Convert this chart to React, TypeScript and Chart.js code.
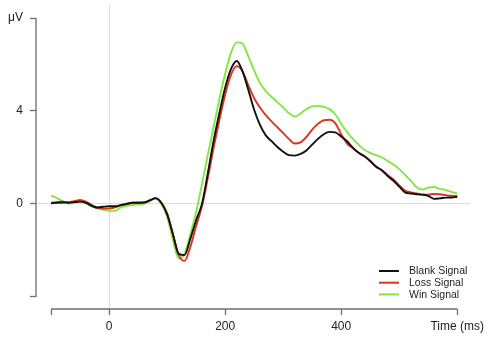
import React, { useEffect, useRef } from "react";
import { Chart, registerables } from "chart.js";

Chart.register(...registerables);

const times = [
  -100, -90, -80, -70, -60, -50, -40, -30, -20, -10,
  0, 10, 20, 30, 40, 50, 60, 70, 80, 90,
  100, 110, 120, 130, 140, 150, 160, 170, 180, 190,
  200, 210, 220, 230, 240, 250, 260, 270, 280, 290,
  300, 310, 320, 330, 340, 350, 360, 370, 380, 390,
  400, 410, 420, 430, 440, 450, 460, 470, 480, 490,
  500, 510, 520, 530, 540, 550, 560, 570, 580, 590, 600,
];

const blankSignal = [
  0.03, 0.05, 0.06, 0.05, 0.08, 0.1, 0.05, -0.08, -0.15, -0.12,
  -0.1, -0.1, -0.05, 0.0, 0.05, 0.05, 0.06, 0.15, 0.25, 0.05,
  -0.45, -1.3, -2.15, -2.2, -1.5, -0.7, 0.0, 1.3, 2.7, 3.9,
  5.0, 5.8, 6.15, 5.7, 4.9, 4.05, 3.4, 2.95, 2.7, 2.45,
  2.25, 2.1, 2.08, 2.15, 2.3, 2.55, 2.8, 3.0, 3.1, 3.08,
  2.9, 2.7, 2.42, 2.2, 2.05, 1.85, 1.6, 1.45, 1.2, 1.0,
  0.75, 0.5, 0.45, 0.42, 0.4, 0.35, 0.22, 0.24, 0.27, 0.28, 0.3,
];

const lossSignal = [
  0.05, 0.08, 0.1, 0.08, 0.12, 0.17, 0.1, -0.05, -0.18, -0.2,
  -0.2, -0.15, -0.05, 0.0, 0.05, 0.06, 0.06, 0.15, 0.24, 0.05,
  -0.4, -1.3, -2.2, -2.45, -1.85, -0.95, -0.1, 1.1, 2.4, 3.6,
  4.7, 5.55, 5.93, 5.7, 5.1, 4.55, 4.15, 3.82, 3.55, 3.3,
  3.05, 2.8, 2.6, 2.65, 2.88, 3.2, 3.45, 3.6, 3.62, 3.47,
  3.0, 2.6, 2.4, 2.2, 2.05, 1.85, 1.62, 1.45, 1.25, 1.05,
  0.8, 0.58, 0.5, 0.45, 0.4, 0.4, 0.43, 0.42, 0.38, 0.35, 0.34,
];

const winSignal = [
  0.36, 0.25, 0.12, 0.02, 0.05, 0.1, 0.02, -0.1, -0.18, -0.25,
  -0.3, -0.3, -0.15, -0.08, -0.05, -0.02, 0.0, 0.12, 0.24, 0.0,
  -0.55, -1.55, -2.35, -2.15, -1.3, -0.35, 0.85, 2.1, 3.3, 4.5,
  5.6, 6.5, 6.95, 6.9, 6.35, 5.75, 5.2, 4.85, 4.6, 4.38,
  4.15, 3.9, 3.76, 3.9, 4.08, 4.2, 4.22, 4.18, 4.08, 3.85,
  3.45, 3.1, 2.8, 2.55, 2.33, 2.2, 2.1, 2.0, 1.85, 1.7,
  1.5, 1.25, 1.0, 0.72, 0.62, 0.7, 0.73, 0.65, 0.6, 0.52, 0.45,
];

const seriesLabels = ["Blank Signal", "Loss Signal", "Win Signal"];
const seriesColors = ["#111111", "#de3320", "#84e640"];
const xTicks = [-100, 0, 200, 400, 600];
const xTickLabels = ["", "0", "200", "400", "Time (ms)"];
const yTicks = [-4, 0, 4, 8];
const yTickLabels = ["", "0", "4", "μV"];

const FONT = "'Liberation Sans', Arial, Helvetica, sans-serif";
const AXIS_COLOR = "#6e6e6e";

const axesAndLegend = {
  id: "axesAndLegend",
  afterDraw(chart: any) {
    const ctx = chart.ctx;
    const xs = chart.scales.x;
    const ys = chart.scales.y;
    const ca = chart.chartArea;
    ctx.save();
    ctx.strokeStyle = AXIS_COLOR;
    ctx.lineWidth = 1.3;
    ctx.beginPath();
    ctx.moveTo(ca.left, ys.getPixelForValue(yTicks[0]));
    ctx.lineTo(ca.left, ys.getPixelForValue(yTicks[yTicks.length - 1]));
    ctx.moveTo(xs.getPixelForValue(xTicks[0]), ca.bottom);
    ctx.lineTo(xs.getPixelForValue(xTicks[xTicks.length - 1]), ca.bottom);
    ctx.stroke();

    // legend
    const lx = ca.right - 91;
    const ly = ca.bottom - 38;
    ctx.font = `10.5px ${FONT}`;
    ctx.textBaseline = "middle";
    ctx.textAlign = "left";
    chart.data.datasets.forEach((ds: any, i: number) => {
      const y = ly + i * 11.7;
      ctx.strokeStyle = ds.borderColor;
      ctx.lineWidth = 2;
      ctx.beginPath();
      ctx.moveTo(lx, y);
      ctx.lineTo(lx + 20, y);
      ctx.stroke();
      ctx.fillStyle = "#222";
      ctx.fillText(ds.label, lx + 30, y + 0.5);
    });
    ctx.restore();
  },
};

export default function App() {
  const ref = useRef<HTMLCanvasElement | null>(null);
  useEffect(() => {
    if (!ref.current) return;
    const datasets = [blankSignal, lossSignal, winSignal].map((vals, i) => ({
      label: seriesLabels[i],
      data: times.map((t, j) => ({ x: t, y: vals[j] })),
      borderColor: seriesColors[i],
      backgroundColor: seriesColors[i],
      borderWidth: 1.9,
      pointRadius: 0,
      tension: 0.4,
      cubicInterpolationMode: "monotone" as const,
    }));
    const chart = new Chart(ref.current, {
      type: "line",
      data: { datasets },
      plugins: [axesAndLegend],
      options: {
        animation: false,
        responsive: false,
        devicePixelRatio: 1,
        layout: { padding: { top: 5, right: 20, left: 0, bottom: 0 } },
        plugins: { legend: { display: false }, tooltip: { enabled: false } },
        scales: {
          x: {
            type: "linear",
            min: -126,
            max: 622,
            afterBuildTicks: (s: any) => {
              s.ticks = xTicks.map((v) => ({ value: v }));
            },
            afterFit: (s: any) => {
              s.height = 32;
              s.paddingLeft = 0;
              s.paddingRight = 0;
              s.paddingTop = 0;
              s.paddingBottom = 0;
            },
            border: { display: false },
            grid: {
              color: (c: any) => (c.tick && c.tick.value === 0 ? "#dcdcdc" : "rgba(0,0,0,0)"),
              tickColor: AXIS_COLOR,
              tickLength: 6,
              tickWidth: 1.3,
              lineWidth: 1,
            },
            ticks: {
              autoSkip: false,
              maxRotation: 0,
              padding: 4,
              color: "#222",
              font: { family: FONT, size: 12 },
              callback: (v: any) => {
                const i = xTicks.indexOf(Number(v));
                return i >= 0 ? xTickLabels[i] : "";
              },
            },
          },
          y: {
            type: "linear",
            min: -4.52,
            max: 8.56,
            afterBuildTicks: (s: any) => {
              s.ticks = yTicks.map((v) => ({ value: v }));
            },
            afterFit: (s: any) => {
              s.width = 36;
              s.paddingLeft = 0;
              s.paddingRight = 0;
              s.paddingTop = 0;
              s.paddingBottom = 0;
            },
            border: { display: false },
            grid: {
              color: (c: any) => (c.tick && c.tick.value === 0 ? "#dcdcdc" : "rgba(0,0,0,0)"),
              tickColor: AXIS_COLOR,
              tickLength: 6,
              tickWidth: 1.3,
              lineWidth: 1,
            },
            ticks: {
              autoSkip: false,
              padding: 7,
              color: "#222",
              font: { family: FONT, size: 12 },
              callback: (v: any) => {
                const i = yTicks.indexOf(Number(v));
                return i >= 0 ? yTickLabels[i] : "";
              },
            },
          },
        },
      },
    });
    return () => chart.destroy();
  }, []);
  return (
    <div style={{ position: "absolute", left: 0, top: 0, width: 490, height: 341, background: "#fff" }}>
      <canvas ref={ref} width={490} height={341} style={{ display: "block", width: 490, height: 341 }} />
    </div>
  );
}
